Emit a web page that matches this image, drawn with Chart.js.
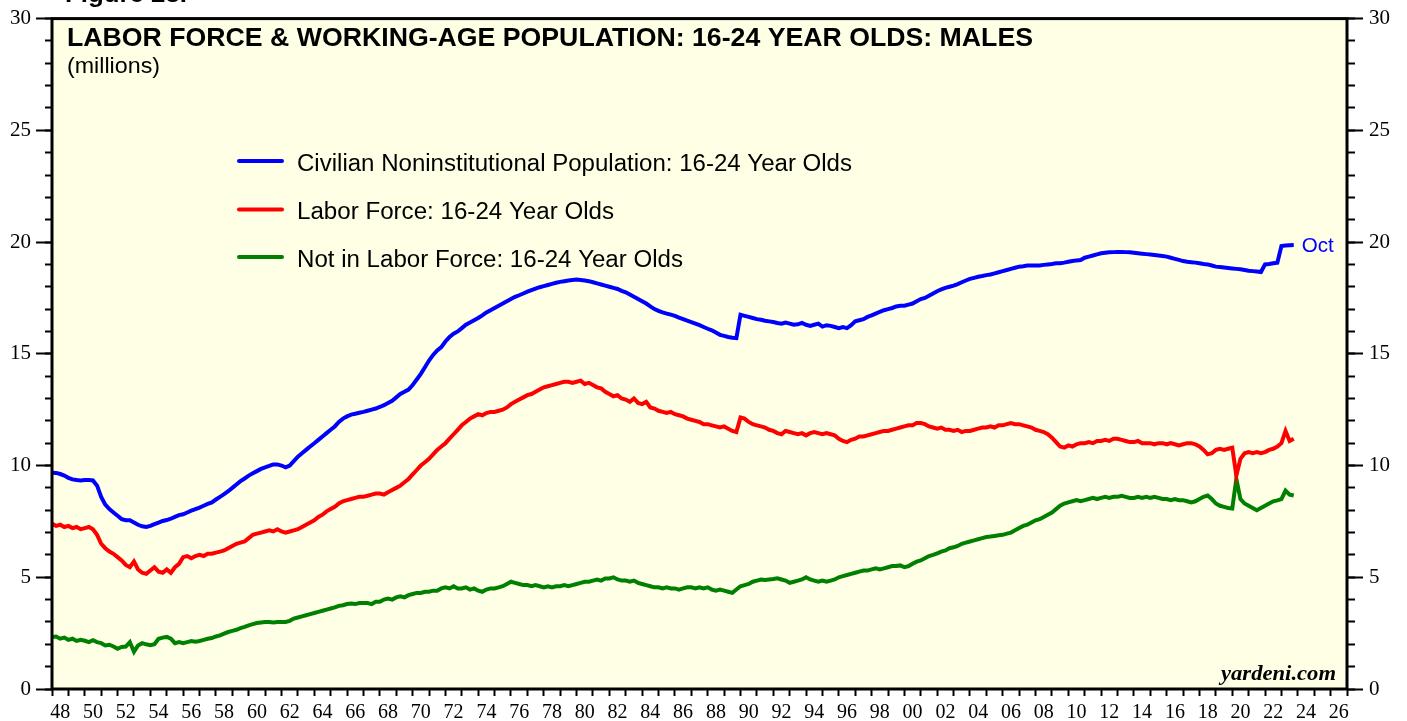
<!DOCTYPE html>
<html><head><meta charset="utf-8">
<script src="https://cdn.jsdelivr.net/npm/chart.js@4/dist/chart.umd.min.js"></script>
<style>html,body{margin:0;padding:0;background:#fff;overflow:hidden}canvas{display:block}</style>
</head><body>
<canvas id="c" width="1407" height="721"></canvas>
<script>
// ---- DATA (quarterly: Jan, Apr, Jul, Oct of each year, 1948 .. Oct 2023), millions ----
const START_YEAR = 1948;
const seriesLabels = [
  'Civilian Noninstitutional Population: 16-24 Year Olds',
  'Labor Force: 16-24 Year Olds',
  'Not in Labor Force: 16-24 Year Olds'
];
const population = [
  9.68,9.67,9.62,9.55, 9.45,9.38,9.35,9.33, 9.35,9.35,9.33,9.10, 8.60,8.25,8.05,7.90,
  7.75,7.60,7.55,7.55, 7.45,7.35,7.28,7.25, 7.30,7.38,7.45,7.52, 7.56,7.62,7.70,7.78,
  7.82,7.90,7.98,8.05, 8.12,8.20,8.28,8.35, 8.48,8.60,8.72,8.85, 9.00,9.15,9.30,9.42,
  9.55,9.65,9.75,9.85, 9.92,9.98,10.05,10.05, 10.00,9.92,10.00,10.20, 10.40,10.55,10.70,10.85,
  11.00,11.15,11.30,11.45, 11.60,11.75,11.95,12.10, 12.20,12.28,12.32,12.36, 12.40,12.45,12.50,12.55,
  12.62,12.70,12.80,12.90, 13.05,13.20,13.30,13.40, 13.60,13.85,14.10,14.40, 14.70,14.95,15.15,15.30,
  15.55,15.75,15.90,16.00, 16.15,16.30,16.40,16.50, 16.60,16.72,16.85,16.95, 17.05,17.15,17.25,17.35,
  17.45,17.55,17.62,17.70, 17.78,17.85,17.92,17.98, 18.03,18.08,18.13,18.18, 18.22,18.25,18.28,18.30,
  18.32,18.30,18.28,18.25, 18.20,18.15,18.10,18.05, 18.00,17.95,17.90,17.82, 17.75,17.65,17.55,17.45,
  17.35,17.25,17.12,17.00, 16.92,16.85,16.80,16.75, 16.70,16.62,16.55,16.48, 16.42,16.35,16.28,16.20,
  16.12,16.05,15.95,15.85, 15.80,15.75,15.72,15.70, 16.75,16.70,16.65,16.60, 16.55,16.52,16.48,16.45,
  16.42,16.38,16.35,16.40, 16.35,16.30,16.32,16.38, 16.30,16.25,16.30,16.35, 16.22,16.28,16.25,16.20,
  16.15,16.20,16.15,16.28, 16.45,16.50,16.55,16.65, 16.72,16.80,16.88,16.95, 17.00,17.05,17.12,17.15,
  17.15,17.20,17.25,17.35, 17.45,17.50,17.60,17.70, 17.80,17.88,17.95,18.00, 18.05,18.12,18.20,18.28,
  18.35,18.40,18.45,18.48, 18.52,18.55,18.60,18.65, 18.70,18.75,18.80,18.85, 18.90,18.92,18.95,18.95,
  18.95,18.95,18.98,19.00, 19.02,19.05,19.05,19.08, 19.12,19.15,19.18,19.20, 19.30,19.35,19.40,19.45,
  19.50,19.52,19.54,19.55, 19.56,19.56,19.55,19.54, 19.52,19.50,19.48,19.46, 19.44,19.42,19.40,19.38,
  19.35,19.30,19.25,19.20, 19.15,19.12,19.10,19.08, 19.05,19.02,19.00,18.95, 18.90,18.88,18.86,18.84,
  18.82,18.80,18.78,18.75, 18.72,18.70,18.68,18.66, 19.00,19.02,19.05,19.08, 19.82,19.85,19.86,19.87
];
const laborForce = [
  7.40,7.30,7.35,7.25, 7.30,7.20,7.25,7.15, 7.20,7.25,7.15,6.90, 6.50,6.30,6.15,6.05,
  5.90,5.75,5.55,5.45, 5.70,5.35,5.20,5.15, 5.30,5.45,5.25,5.20, 5.35,5.20,5.45,5.60,
  5.90,5.95,5.85,5.95, 6.00,5.95,6.05,6.05, 6.10,6.15,6.20,6.30, 6.40,6.50,6.55,6.60,
  6.75,6.90,6.95,7.00, 7.05,7.10,7.05,7.15, 7.05,7.00,7.05,7.10, 7.15,7.25,7.35,7.45,
  7.55,7.70,7.80,7.95, 8.05,8.15,8.30,8.40, 8.45,8.50,8.55,8.60, 8.60,8.65,8.70,8.75,
  8.75,8.70,8.80,8.90, 9.00,9.10,9.25,9.40, 9.60,9.80,10.00,10.15, 10.30,10.50,10.70,10.85,
  11.00,11.20,11.40,11.60, 11.80,11.95,12.10,12.20, 12.30,12.25,12.35,12.40, 12.40,12.45,12.50,12.60,
  12.75,12.85,12.95,13.05, 13.15,13.20,13.30,13.40, 13.50,13.55,13.60,13.65, 13.70,13.75,13.75,13.70,
  13.75,13.80,13.65,13.70, 13.60,13.50,13.45,13.30, 13.20,13.10,13.15,13.00, 12.95,12.85,13.00,12.80,
  12.75,12.85,12.60,12.55, 12.45,12.40,12.35,12.40, 12.30,12.25,12.20,12.10, 12.05,12.00,11.95,11.85,
  11.85,11.80,11.75,11.70, 11.75,11.65,11.55,11.50, 12.15,12.10,11.95,11.85, 11.80,11.75,11.70,11.60,
  11.55,11.45,11.40,11.55, 11.50,11.45,11.40,11.45, 11.35,11.45,11.50,11.45, 11.40,11.45,11.40,11.35,
  11.20,11.10,11.05,11.15, 11.20,11.30,11.30,11.35, 11.40,11.45,11.50,11.55, 11.55,11.60,11.65,11.70,
  11.75,11.80,11.80,11.90, 11.90,11.85,11.75,11.70, 11.65,11.70,11.60,11.60, 11.55,11.60,11.50,11.55,
  11.55,11.60,11.65,11.70, 11.70,11.75,11.70,11.80, 11.80,11.85,11.90,11.85, 11.85,11.80,11.75,11.70,
  11.60,11.55,11.50,11.40, 11.25,11.05,10.85,10.80, 10.90,10.85,10.95,11.00, 11.00,11.05,11.00,11.10,
  11.10,11.15,11.10,11.20, 11.20,11.15,11.10,11.05, 11.05,11.10,11.00,11.00, 11.00,10.95,11.00,11.00,
  10.95,11.00,10.95,10.90, 10.95,11.00,11.00,10.95, 10.85,10.70,10.50,10.55, 10.70,10.75,10.70,10.75,
  10.80,9.55,10.30,10.55, 10.60,10.55,10.60,10.55, 10.60,10.70,10.75,10.85, 11.00,11.55,11.10,11.20
];
const notInLaborForce = [
  2.33,2.35,2.25,2.30, 2.20,2.25,2.15,2.20, 2.16,2.10,2.18,2.10, 2.05,1.95,1.98,1.90,
  1.80,1.88,1.90,2.10, 1.67,1.95,2.05,2.00, 1.96,2.00,2.25,2.30, 2.33,2.25,2.05,2.10,
  2.05,2.10,2.15,2.12, 2.15,2.20,2.25,2.28, 2.35,2.40,2.48,2.55, 2.60,2.65,2.72,2.78,
  2.85,2.90,2.95,2.98, 3.00,3.00,2.98,3.00, 3.00,3.00,3.05,3.15, 3.20,3.25,3.30,3.35,
  3.40,3.45,3.50,3.55, 3.60,3.65,3.72,3.75, 3.80,3.82,3.80,3.85, 3.85,3.85,3.80,3.90,
  3.90,4.00,4.05,4.00, 4.10,4.15,4.10,4.20, 4.25,4.30,4.30,4.35, 4.35,4.40,4.40,4.50,
  4.55,4.50,4.60,4.50, 4.50,4.55,4.45,4.50, 4.40,4.35,4.45,4.50, 4.50,4.55,4.60,4.70,
  4.80,4.75,4.70,4.65, 4.65,4.60,4.65,4.60, 4.55,4.60,4.55,4.60, 4.60,4.65,4.60,4.65,
  4.70,4.75,4.80,4.80, 4.85,4.90,4.85,4.95, 4.95,5.00,4.90,4.85, 4.85,4.80,4.85,4.75,
  4.70,4.65,4.60,4.55, 4.55,4.50,4.55,4.50, 4.50,4.45,4.50,4.55, 4.55,4.50,4.55,4.50,
  4.55,4.45,4.40,4.45, 4.40,4.35,4.30,4.45, 4.60,4.65,4.70,4.80, 4.85,4.90,4.88,4.90,
  4.92,4.95,4.90,4.85, 4.75,4.80,4.85,4.90, 5.00,4.90,4.85,4.80, 4.85,4.80,4.85,4.90,
  5.00,5.05,5.10,5.15, 5.20,5.25,5.30,5.30, 5.35,5.40,5.35,5.40, 5.45,5.50,5.50,5.53,
  5.45,5.50,5.60,5.70, 5.75,5.85,5.95,6.00, 6.07,6.15,6.20,6.30, 6.34,6.40,6.50,6.55,
  6.60,6.65,6.70,6.75, 6.80,6.82,6.85,6.88, 6.90,6.95,7.00,7.10, 7.20,7.30,7.35,7.45,
  7.55,7.60,7.70,7.80, 7.90,8.05,8.20,8.30, 8.35,8.40,8.45,8.40, 8.45,8.50,8.55,8.50,
  8.55,8.60,8.55,8.60, 8.60,8.65,8.60,8.55, 8.55,8.60,8.55,8.60, 8.55,8.60,8.55,8.50,
  8.50,8.45,8.50,8.45, 8.45,8.40,8.35,8.40, 8.50,8.60,8.66,8.50, 8.30,8.20,8.15,8.10,
  8.08,9.40,8.50,8.30, 8.20,8.10,8.00,8.10, 8.20,8.30,8.40,8.44, 8.50,8.88,8.70,8.66
];
const xTickYears = [];  for (let y = 1948; y <= 2027; y++) xTickYears.push(y);
const xLabelYears = []; for (let y = 1948; y <= 2026; y += 2) xLabelYears.push(y);
const yMajorTicks = [0, 5, 10, 15, 20, 25, 30];
const yMinorTicks = []; for (let v = 0; v <= 30; v++) yMinorTicks.push(v);
const lastMonthLabel = 'Oct';

// ---- CHART ----
const quarters = population.map((_, i) => START_YEAR + i / 4);
const toPts = arr => arr.map((v, i) => ({ x: quarters[i], y: v }));
const colors = ['#0000ff', '#ff0000', '#008000'];
const SERIF = '"Liberation Serif","Times New Roman",serif';
const SANS = '"Liberation Sans",Arial,Helvetica,sans-serif';

function fitText(ctx, txt, x, y, w, font, color, align) {
  ctx.save();
  ctx.font = font; ctx.fillStyle = color; ctx.textBaseline = 'alphabetic'; ctx.textAlign = 'left';
  const m = ctx.measureText(txt).width;
  const sx = w / m;
  ctx.translate(align === 'right' ? x - w : x, y);
  ctx.scale(sx, 1);
  ctx.fillText(txt, 0, 0);
  ctx.restore();
}

const decor = {
  id: 'decor',
  beforeDraw(chart) {
    const { ctx, chartArea: a } = chart;
    ctx.save();
    ctx.fillStyle = '#ffffe5';
    ctx.fillRect(a.left, a.top, a.right - a.left, a.bottom - a.top);
    ctx.restore();
  },
  afterDatasetsDraw(chart) {
    const { ctx, chartArea: a } = chart;
    ctx.save();
    ctx.strokeStyle = '#000'; ctx.lineWidth = 3;
    ctx.strokeRect(a.left, a.top, a.right - a.left, a.bottom - a.top);
    ctx.restore();
    // top figure caption (cut off by the page edge)
    fitText(ctx, 'Figure 23.', 65, 2, 122, 'bold 24px ' + SANS, '#000');
    // title
    fitText(ctx, 'LABOR FORCE & WORKING-AGE POPULATION: 16-24 YEAR OLDS: MALES', 67, 45.5, 966, 'bold 25px ' + SANS, '#000');
    fitText(ctx, '(millions)', 67, 73, 93, '22px ' + SANS, '#000');
    // legend
    const legY = [161, 209.5, 257];
    const legW = [555, 317, 386];
    chart.data.datasets.forEach((ds, i) => {
      ctx.save();
      ctx.strokeStyle = ds.borderColor; ctx.lineWidth = 4; ctx.lineCap = 'round';
      ctx.beginPath(); ctx.moveTo(239, legY[i]); ctx.lineTo(282, legY[i]); ctx.stroke();
      ctx.restore();
      fitText(ctx, ds.label, 297, legY[i] + 9.7, legW[i], '23px ' + SANS, '#000');
    });
    // last-month tag
    const xs = chart.scales.x, ys = chart.scales.y;
    const lastX = quarters[quarters.length - 1];
    const lastY = population[population.length - 1];
    fitText(ctx, lastMonthLabel, xs.getPixelForValue(lastX) + 8, ys.getPixelForValue(lastY) + 7.5, 32, '21px ' + SANS, colors[0]);
    // source
    fitText(ctx, 'yardeni.com', 1336, 680, 115, 'bold italic 21px ' + SERIF, '#000', 'right');
  }
};

const tickGrid = (len) => ({ display: true, drawOnChartArea: false, drawTicks: true, tickLength: len, tickWidth: 2, tickColor: '#000', color: '#000' });
const fixTicks = (list) => (scale) => { scale.ticks = list.map(v => ({ value: v })); };
const fixWidth = (w) => (scale) => { scale.width = w; };
const fixHeight = (h) => (scale) => { scale.height = h; };

new Chart(document.getElementById('c'), {
  type: 'line',
  data: {
    datasets: [population, laborForce, notInLaborForce].map((arr, i) => ({
      label: seriesLabels[i],
      data: toPts(arr),
      borderColor: colors[i],
      backgroundColor: colors[i],
      borderWidth: 4,
      pointRadius: 0,
      tension: 0,
      fill: false,
      xAxisID: 'x',
      yAxisID: 'y'
    }))
  },
  plugins: [decor],
  options: {
    responsive: false,
    animation: false,
    layout: { padding: { top: 17, left: 0, right: 0, bottom: 0 } },
    plugins: { legend: { display: false }, tooltip: { enabled: false }, title: { display: false } },
    scales: {
      x: {
        type: 'linear', position: 'bottom', min: 1948, max: 2027,
        afterBuildTicks: fixTicks(xTickYears), afterFit: fixHeight(0),
        ticks: { display: false, autoSkip: false },
        grid: tickGrid(7), border: { display: false }
      },
      y: {
        type: 'linear', position: 'left', min: 0, max: 30,
        afterBuildTicks: fixTicks(yMinorTicks), afterFit: fixWidth(0),
        ticks: { display: false, autoSkip: false },
        grid: tickGrid(7), border: { display: false }
      },
      yR: {
        type: 'linear', position: 'right', min: 0, max: 30,
        afterBuildTicks: fixTicks(yMinorTicks), afterFit: fixWidth(0),
        ticks: { display: false, autoSkip: false },
        grid: tickGrid(8), border: { display: false }
      },
      xLab: {
        type: 'linear', position: 'bottom', min: 1948, max: 2027,
        afterBuildTicks: fixTicks(xLabelYears.map(y => y + 0.5)), afterFit: fixHeight(32),
        ticks: { autoSkip: false, maxRotation: 0, padding: 4, color: '#000', font: { family: SERIF, size: 20 },
                 callback: v => String(Math.floor(v) % 100).padStart(2, '0') },
        grid: { display: false }, border: { display: false }
      },
      yL: {
        type: 'linear', position: 'left', min: 0, max: 30,
        afterBuildTicks: fixTicks(yMajorTicks), afterFit: fixWidth(52),
        ticks: { autoSkip: false, padding: 5, color: '#000', font: { family: SERIF, size: 21 } },
        grid: tickGrid(16), border: { display: false }
      },
      yR2: {
        type: 'linear', position: 'right', min: 0, max: 30,
        afterBuildTicks: fixTicks(yMajorTicks), afterFit: fixWidth(60),
        ticks: { autoSkip: false, padding: 6, color: '#000', font: { family: SERIF, size: 21 } },
        grid: tickGrid(16), border: { display: false }
      }
    }
  }
});
</script>
</body></html>
